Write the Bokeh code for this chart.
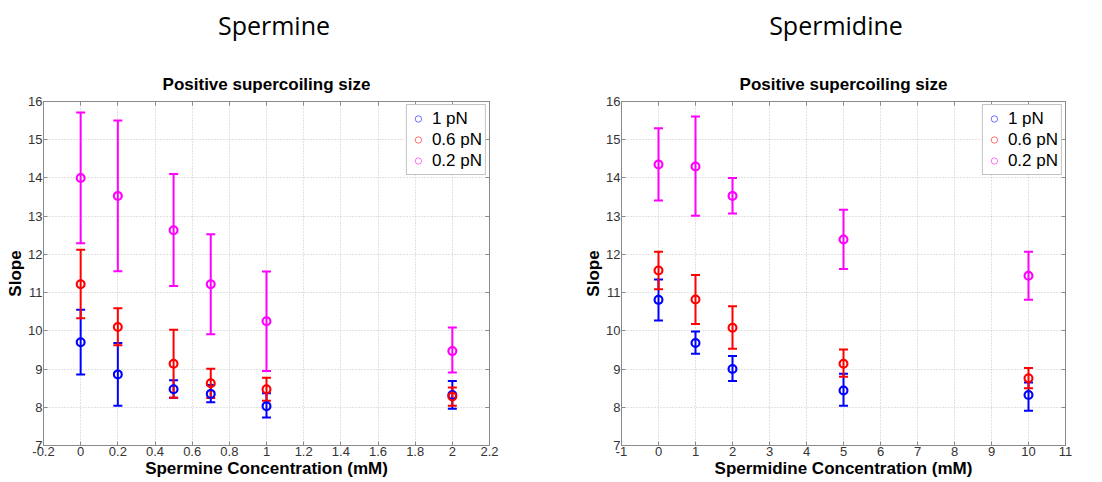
from bokeh.plotting import figure
from bokeh.models import (ColumnDataSource, Whisker, TeeHead, Title, FixedTicker, Legend,
                          LegendItem, LinearAxis, Div)
from bokeh.layouts import row, column
from bokeh.embed import file_html
from bokeh.resources import INLINE

# ---------------- data ----------------
spermine_conc = [0, 0.2, 0.5, 0.7, 1, 2]
spermine_1pN = [9.70, 8.86, 8.47, 8.35, 8.03, 8.32]
spermine_1pN_up = [10.55, 9.68, 8.71, 8.58, 8.37, 8.69]
spermine_1pN_lo = [8.86, 8.04, 8.25, 8.13, 7.73, 7.96]
spermine_06pN = [11.22, 10.10, 9.14, 8.63, 8.47, 8.28]
spermine_06pN_up = [12.12, 10.59, 10.03, 9.01, 8.77, 8.52]
spermine_06pN_lo = [10.33, 9.62, 8.25, 8.24, 8.17, 8.04]
spermine_02pN = [14.00, 13.53, 12.63, 11.22, 10.25, 9.47]
spermine_02pN_up = [15.71, 15.50, 14.10, 12.53, 11.55, 10.09]
spermine_02pN_lo = [12.29, 11.56, 11.17, 9.91, 8.95, 8.91]

spermidine_conc = [0, 1, 2, 5, 10]
spermidine_1pN = [10.81, 9.68, 9.00, 8.44, 8.32]
spermidine_1pN_up = [11.34, 9.98, 9.34, 8.88, 8.65]
spermidine_1pN_lo = [10.27, 9.40, 8.69, 8.04, 7.91]
spermidine_06pN = [11.58, 10.82, 10.08, 9.14, 8.76]
spermidine_06pN_up = [12.07, 11.46, 10.64, 9.51, 9.03]
spermidine_06pN_lo = [11.09, 10.18, 9.53, 8.80, 8.50]
spermidine_02pN = [14.35, 14.30, 13.53, 12.39, 11.44]
spermidine_02pN_up = [15.30, 15.61, 14.00, 13.17, 12.07]
spermidine_02pN_lo = [13.41, 13.01, 13.07, 11.62, 10.81]

series_labels = ["1 pN", "0.6 pN", "0.2 pN"]
series_colors = ["#0000FF", "#FF0000", "#FF00FF"]

y_ticks = [7, 8, 9, 10, 11, 12, 13, 14, 15, 16]
x_ticks_left = [-0.2, 0, 0.2, 0.4, 0.6, 0.8, 1, 1.2, 1.4, 1.6, 1.8, 2, 2.2]
x_tick_labels_left = ["-0.2", "0", "0.2", "0.4", "0.6", "0.8", "1", "1.2", "1.4", "1.6", "1.8", "2", "2.2"]
x_ticks_right = [-1, 0, 1, 2, 3, 4, 5, 6, 7, 8, 9, 10, 11]
x_tick_labels_right = ["-1", "0", "1", "2", "3", "4", "5", "6", "7", "8", "9", "10", "11"]

FONT = "Liberation Sans"
GRAY = "#8a8a8a"
FIG_H = 425
DIV_H = 55


def style_axis(ax, show_labels=True):
    ax.major_tick_in = 4
    ax.major_tick_out = 0
    ax.minor_tick_line_color = None
    ax.axis_line_color = GRAY
    ax.major_tick_line_color = GRAY
    ax.major_label_text_font = FONT
    ax.major_label_text_font_size = "13px" if show_labels else "1px"
    ax.major_label_text_color = "#333333"
    ax.major_label_standoff = 2 if show_labels else 0
    ax.axis_label_text_font = FONT
    ax.axis_label_text_font_size = "17px"
    ax.axis_label_text_font_style = "bold"
    ax.axis_label_text_color = "#000000"
    ax.axis_label_standoff = 0


def make_panel(xlabel, xs, series, xticks, xlabels, xrange, width, bl, br):
    p = figure(width=width, height=FIG_H, x_range=xrange, y_range=(7, 16),
               output_backend="svg", toolbar_location=None, title=None,
               min_border_left=bl, min_border_right=br, min_border_top=46, min_border_bottom=30)
    bottom_ax = p.below[0]
    left_ax = p.left[0]

    # box ticks on top and right (Matlab style)
    top_ax = LinearAxis(ticker=FixedTicker(ticks=xticks))
    top_ax.major_label_overrides = {t: "" for t in xticks}
    style_axis(top_ax, False)
    p.add_layout(top_ax, "above")
    right_ax = LinearAxis(ticker=FixedTicker(ticks=y_ticks))
    right_ax.major_label_overrides = {t: "" for t in y_ticks}
    style_axis(right_ax, False)
    p.add_layout(right_ax, "right")

    p.add_layout(Title(text="Positive supercoiling size", align="center", text_font=FONT,
                       text_font_size="17px", text_font_style="bold", text_color="#000000",
                       standoff=16), "above")
    p.outline_line_color = GRAY
    p.background_fill_color = "white"
    p.border_fill_color = "white"

    bottom_ax.ticker = FixedTicker(ticks=xticks)
    bottom_ax.major_label_overrides = {t: l for t, l in zip(xticks, xlabels)}
    left_ax.ticker = FixedTicker(ticks=y_ticks)
    left_ax.major_label_overrides = {t: str(t) for t in y_ticks}
    style_axis(bottom_ax)
    style_axis(left_ax)
    bottom_ax.major_label_standoff = 1
    left_ax.major_label_standoff = 1
    left_ax.axis_label = "Slope"
    bottom_ax.axis_label = xlabel

    p.xgrid.ticker = FixedTicker(ticks=xticks)
    p.ygrid.ticker = FixedTicker(ticks=y_ticks)
    for g in (p.xgrid, p.ygrid):
        g.grid_line_color = "#c4c4c4"
        g.grid_line_dash = "1 2"
        g.grid_line_width = 1

    items = []
    for (vals, up, lo), label, color in zip(series, series_labels, series_colors):
        src = ColumnDataSource(dict(x=xs, y=vals, upper=up, lower=lo))
        thin = p.scatter("x", "y", source=src, marker="circle", size=7, fill_color=None,
                         line_color=color, line_width=1, line_alpha=0.55)
        w = Whisker(source=src, base="x", upper="upper", lower="lower", dimension="height",
                    line_color=color, line_width=2,
                    upper_head=TeeHead(size=9, line_color=color, line_width=2),
                    lower_head=TeeHead(size=9, line_color=color, line_width=2))
        p.add_layout(w)
        p.scatter("x", "y", source=src, marker="circle", size=8, fill_color=None,
                  line_color=color, line_width=2)
        items.append(LegendItem(label=label, renderers=[thin]))

    legend = Legend(items=items, location="top_right", margin=3, padding=3, spacing=0,
                    label_text_font=FONT, label_text_font_size="17px", label_height=21,
                    label_text_color="#000000",
                    glyph_width=16, glyph_height=21, label_standoff=6,
                    border_line_color=GRAY, border_line_width=1,
                    background_fill_color="white", background_fill_alpha=1)
    p.add_layout(legend)
    return p


def big_title(text, width, shift):
    return Div(text=text, width=width, height=DIV_H, margin=(0, 0, 0, 0),
               styles={"font-family": "Open Sans", "font-size": "25px", "color": "#000000",
                       "text-align": "center", "line-height": "50px",
                       "padding-left": f"{shift}px", "box-sizing": "border-box"})


p1 = make_panel("Spermine Concentration (mM)", spermine_conc,
                [(spermine_1pN, spermine_1pN_up, spermine_1pN_lo),
                 (spermine_06pN, spermine_06pN_up, spermine_06pN_lo),
                 (spermine_02pN, spermine_02pN_up, spermine_02pN_lo)],
                x_ticks_left, x_tick_labels_left, (-0.2, 2.2), 548, 43, 59)
p2 = make_panel("Spermidine Concentration (mM)", spermidine_conc,
                [(spermidine_1pN, spermidine_1pN_up, spermidine_1pN_lo),
                 (spermidine_06pN, spermidine_06pN_up, spermidine_06pN_lo),
                 (spermidine_02pN, spermidine_02pN_up, spermidine_02pN_lo)],
                x_ticks_right, x_tick_labels_right, (-1, 11), 544, 73, 27)

d1 = big_title("Spermine", 548, 0)
d2 = big_title("Spermidine", 544, 32)

layout = column(row(d1, d2), row(p1, p2))
open("out.html", "w").write(file_html(layout, INLINE))
